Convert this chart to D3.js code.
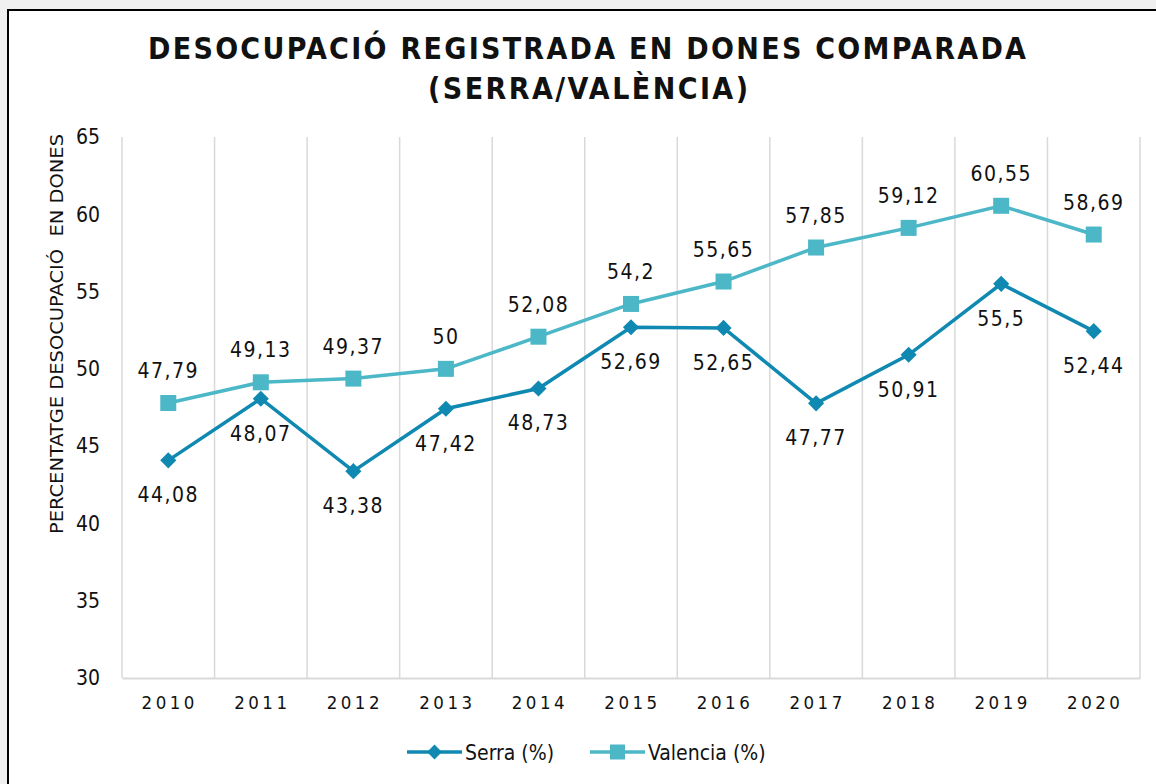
<!DOCTYPE html>
<html>
<head>
<meta charset="utf-8">
<script src="https://cdn.jsdelivr.net/npm/d3@7"></script>
<style>
  html, body { margin: 0; padding: 0; background: #f0f0f0; }
  svg { display: block; }
</style>
</head>
<body>
<svg id="chart" width="1156" height="784"></svg>
<script>
// Women's registered unemployment share, Serra vs. Valencia
const years = ["2010","2011","2012","2013","2014","2015","2016","2017","2018","2019","2020"];
const serra = [44.08, 48.07, 43.38, 47.42, 48.73, 52.69, 52.65, 47.77, 50.91, 55.5, 52.44];
const valencia = [47.79, 49.13, 49.37, 50, 52.08, 54.2, 55.65, 57.85, 59.12, 60.55, 58.69];
const yTicks = [30, 35, 40, 45, 50, 55, 60, 65];
const seriesNames = ["Serra (%)", "Valencia (%)"];

const colSerra = "#0f89b1";
const colValencia = "#4cb7c7";
const fontMain = "'DejaVu Sans Condensed', 'DejaVu Sans', Verdana, sans-serif";

const svg = d3.select("#chart");

// card with black frame
svg.append("rect").attr("x", 8).attr("y", 10).attr("width", 1160).attr("height", 790)
  .attr("fill", "#fff").attr("stroke", "#000").attr("stroke-width", 2);

const x = d3.scaleBand().domain(years).range([122, 1140]).paddingInner(0).paddingOuter(0);
const y = d3.scaleLinear().domain([30, 65]).range([678, 137]);

// vertical gridlines at category boundaries
const bounds = years.map(d => x(d)).concat([x.range()[1]]);
svg.append("g").selectAll("line").data(bounds).join("line")
  .attr("x1", d => d).attr("x2", d => d)
  .attr("y1", y(65)).attr("y2", y(30))
  .attr("stroke", "#d9d9d9").attr("stroke-width", 1.5);

// bottom axis
const xAxis = svg.append("g").attr("transform", `translate(0,${y(30)})`)
  .call(d3.axisBottom(x).tickSize(0).tickPadding(18));
xAxis.select(".domain").attr("stroke", "#d9d9d9").attr("stroke-width", 2);
xAxis.selectAll("text").attr("font-family", fontMain).attr("font-size", 18.5)
  .attr("letter-spacing", "3.5px").attr("fill", "#111").attr("dx", "1.5px");

// left axis
const yAxis = svg.append("g").attr("transform", `translate(100,0)`)
  .call(d3.axisLeft(y).tickValues(yTicks).tickSize(0).tickPadding(0));
yAxis.select(".domain").remove();
yAxis.selectAll("text").attr("font-family", fontMain).attr("font-size", 21).attr("fill", "#111");

// y axis title
svg.append("text")
  .attr("transform", "translate(63,334) rotate(-90)")
  .attr("text-anchor", "middle")
  .attr("font-family", fontMain).attr("font-size", 17).attr("fill", "#111")
  .attr("textLength", 400).attr("lengthAdjust", "spacingAndGlyphs")
  .attr("xml:space", "preserve")
  .text("PERCENTATGE DESOCUPACIÓ  EN DONES");

// chart title
const title = svg.append("g").attr("font-family", fontMain).attr("font-weight", "bold")
  .attr("font-size", 30).attr("fill", "#111").attr("text-anchor", "middle");
title.append("text").attr("x", 587).attr("y", 59)
  .attr("textLength", 878).attr("lengthAdjust", "spacing")
  .text("DESOCUPACIÓ REGISTRADA EN DONES COMPARADA");
title.append("text").attr("x", 588).attr("y", 99)
  .attr("textLength", 320).attr("lengthAdjust", "spacing")
  .text("(SERRA/VALÈNCIA)");

const cx = d => x(d) + x.bandwidth() / 2;
const line = d3.line().x((d, i) => cx(years[i])).y(d => y(d));

function fmt(v) { return String(v).replace(".", ","); }

// Valencia series (squares, labels above)
svg.append("path").datum(valencia).attr("d", line)
  .attr("fill", "none").attr("stroke", colValencia).attr("stroke-width", 3.5);
svg.append("g").selectAll("rect").data(valencia).join("rect")
  .attr("x", (d, i) => cx(years[i]) - 8).attr("y", d => y(d) - 8)
  .attr("width", 16).attr("height", 16).attr("fill", colValencia);
svg.append("g").selectAll("text").data(valencia).join("text")
  .attr("x", (d, i) => cx(years[i])).attr("y", d => y(d) - 25)
  .attr("text-anchor", "middle").attr("font-family", fontMain).attr("font-size", 21)
  .attr("letter-spacing", "1.5px").attr("fill", "#111")
  .text(fmt);

// Serra series (diamonds, labels below)
svg.append("path").datum(serra).attr("d", line)
  .attr("fill", "none").attr("stroke", colSerra).attr("stroke-width", 3.5);
svg.append("g").selectAll("path").data(serra).join("path")
  .attr("transform", (d, i) => `translate(${cx(years[i])},${y(d)}) rotate(45)`)
  .attr("d", d3.symbol().type(d3.symbolSquare).size(130)())
  .attr("fill", colSerra);
svg.append("g").selectAll("text").data(serra).join("text")
  .attr("x", (d, i) => cx(years[i])).attr("y", d => y(d) + 42)
  .attr("text-anchor", "middle").attr("font-family", fontMain).attr("font-size", 21)
  .attr("letter-spacing", "1.5px").attr("fill", "#111")
  .text(fmt);

// legend
const legend = svg.append("g").attr("font-family", fontMain).attr("font-size", 21).attr("fill", "#111");
const legItems = [
  { name: seriesNames[0], color: colSerra, x0: 407, shape: "diamond" },
  { name: seriesNames[1], color: colValencia, x0: 590, shape: "square" }
];
const ly = 752;
legItems.forEach(it => {
  legend.append("line").attr("x1", it.x0).attr("x2", it.x0 + 55).attr("y1", ly).attr("y2", ly)
    .attr("stroke", it.color).attr("stroke-width", 3.5);
  if (it.shape === "diamond") {
    legend.append("path").attr("transform", `translate(${it.x0 + 27.5},${ly}) rotate(45)`)
      .attr("d", d3.symbol().type(d3.symbolSquare).size(110)()).attr("fill", it.color);
  } else {
    legend.append("rect").attr("x", it.x0 + 27.5 - 7.5).attr("y", ly - 7.5)
      .attr("width", 15).attr("height", 15).attr("fill", it.color);
  }
  legend.append("text").attr("x", it.x0 + 58).attr("y", ly + 8).text(it.name);
});
</script>
</body>
</html>
